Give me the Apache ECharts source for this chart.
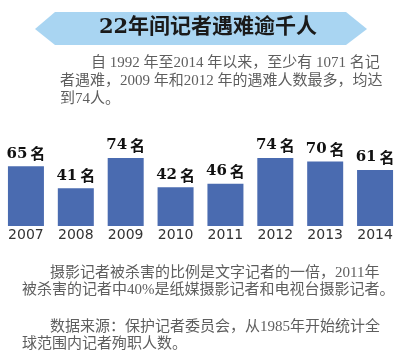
<!DOCTYPE html>
<html>
<head>
<meta charset="utf-8">
<script src="https://cdn.jsdelivr.net/npm/echarts@6/dist/echarts.min.js"></script>
<style>
html,body{margin:0;padding:0;background:#fff;}
#main{width:400px;height:356px;}
</style>
</head>
<body>
<div id="main"></div>
<script>
var years = ['2007','2008','2009','2010','2011','2012','2013','2014'];
var deaths = [65, 41, 74, 42, 46, 74, 70, 61];
var unit = '名';
var title = '22年间记者遇难逾千人';
var intro = ['自 1992 年至2014 年以来，至少有 1071 名记', '者遇难，2009 年和2012 年的遇难人数最多，均达', '到74人。'];
var note = ['摄影记者被杀害的比例是文字记者的一倍，2011年', '被杀害的记者中40%是纸媒摄影记者和电视台摄影记者。'];
var source = ['数据来源：保护记者委员会，从1985年开始统计全', '球范围内记者殉职人数。'];

var textFont = '"Liberation Serif", "Noto Sans CJK SC", serif';
function line(str, x, y, size) {
  return { type: 'text', x: x, y: y, silent: true,
    style: { text: str, fill: '#5e5e5e', fontSize: size, fontFamily: textFont,
      textAlign: 'left', textVerticalAlign: 'middle' } };
}

var chart = echarts.init(document.getElementById('main'), null, {renderer: 'canvas'});
chart.setOption({
  animation: false,
  backgroundColor: '#fff',
  grid: { left: 1, right: -1, top: 134, bottom: 130, containLabel: false },
  xAxis: {
    type: 'category', data: years,
    axisLine: { show: false }, axisTick: { show: false },
    axisLabel: { margin: 2, color: '#333', fontSize: 14, fontFamily: '"DejaVu Sans", sans-serif', interval: 0 }
  },
  yAxis: { type: 'value', min: 0, max: 100, show: false, splitLine: { show: false } },
  series: [{
    type: 'bar', data: deaths, barWidth: 36,
    itemStyle: { color: '#4a6bb0' },
    label: {
      show: true, position: 'top', distance: 5,
      formatter: function (p) { return '{n|' + p.value + '}{u|' + unit + '}'; },
      rich: {
        n: { fontFamily: '"DejaVu Serif", serif', fontWeight: 'bold', fontSize: 15, color: '#111' },
        u: { fontFamily: '"Noto Sans CJK SC", sans-serif', fontWeight: 'bold', fontSize: 15, color: '#111', padding: [0, 0, 0, 3] }
      }
    }
  }],
  graphic: [
    { type: 'polygon', silent: true,
      shape: { points: [[35, 29], [55, 12], [346, 12], [367, 29], [346, 45], [55, 45]] },
      style: { fill: '#a9d5f2' } },
    { type: 'text', x: 208, y: 28, silent: true,
      style: { text: title, fill: '#1a1a1a', fontSize: 21, fontWeight: 'bold',
        fontFamily: '"DejaVu Serif", "Noto Sans CJK SC", serif',
        textAlign: 'center', textVerticalAlign: 'middle' } },
    line(intro[0], 91, 63, 15),
    line(intro[1], 60, 81, 15),
    line(intro[2], 60, 99, 15),
    line(note[0], 50, 273, 15),
    line(note[1], 22, 290, 15),
    line(source[0], 50, 327, 15),
    line(source[1], 22, 344, 15)
  ]
});
</script>
</body>
</html>
